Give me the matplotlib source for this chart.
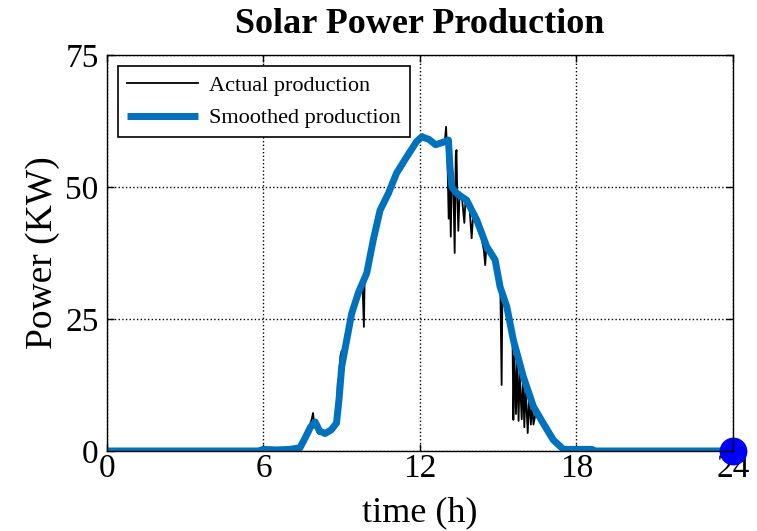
import matplotlib
matplotlib.use("Agg")
import matplotlib.pyplot as plt

# smoothed production (h, kW)
smooth_t = [0, 5.8, 6.0, 6.5, 7.0, 7.4, 7.6, 7.8, 7.98, 8.15, 8.36, 8.6, 8.8, 8.9, 9.0,
            9.19, 9.38, 9.64, 9.96, 10.21, 10.47, 10.79, 11.1, 11.49, 11.87, 12.07, 12.35,
            12.6, 12.96, 13.09, 13.15, 13.22, 13.41, 13.79, 14.18, 14.56, 14.88, 15.07,
            15.33, 15.58, 15.96, 16.35, 16.73, 17.11, 17.5, 18.6, 18.7, 24]
smooth_p = [0, 0, 0.3, 0.2, 0.3, 0.6, 2.5, 4.5, 5.5, 3.8, 3.3, 4.0, 5.3, 10, 16,
            21, 26, 30, 33.7, 40, 45.6, 48.8, 52.6, 55.7, 58.6, 59.5, 59,
            58, 58.6, 58.9, 53.8, 50, 48.8, 47.5, 43.7, 38.7, 36.2, 31.1,
            27.3, 21, 14.1, 8.4, 5.2, 2.1, 0.3, 0.3, 0, 0]

# actual production with its spikes
actual_t = [0, 5.8, 6.0, 7.0, 7.4, 7.6, 7.85, 7.9, 7.95, 8.1, 8.36, 8.6, 8.8, 8.85, 8.9,
            8.95, 9.0, 9.05, 9.15, 9.2, 9.3, 9.45, 9.6, 9.8, 9.85, 9.88, 10.0, 10.2, 10.3,
            10.45, 10.6, 10.8, 11.1, 11.5, 11.9, 12.1, 12.35, 12.6, 12.95, 13.0, 13.05,
            13.1, 13.13, 13.18, 13.22, 13.28, 13.33, 13.37, 13.4, 13.43, 13.47, 13.52,
            13.6, 13.7, 13.75, 13.9, 13.98, 14.05, 14.2, 14.35, 14.45, 14.5, 14.55, 14.7,
            14.9, 15.0, 15.08, 15.13, 15.16, 15.3, 15.45, 15.55, 15.58, 15.62, 15.68,
            15.72, 15.78, 15.82, 15.9, 15.95, 16.0, 16.05, 16.13, 16.18, 16.25, 16.3,
            16.35, 16.45, 16.6, 16.73, 17.1, 17.5, 18.6, 18.7, 24]
actual_p = [0, 0, 0.3, 0.3, 0.5, 2.6, 6.0, 7.2, 4.8, 3.3, 3.2, 3.9, 5, 13, 14,
            18, 19, 16, 22, 23, 24, 27, 30, 31, 23.5, 33, 34, 40, 43,
            46, 47, 49, 53, 56, 59, 60, 59, 58, 58.5, 61.4, 56,
            44, 55, 40.6, 52, 50, 37.5, 56, 57, 48, 41.7, 49,
            48.5, 43.2, 48, 46, 40.3, 45.5, 43.5, 40.5, 38, 35.2, 39, 37.5,
            36, 33, 31, 12.5, 30, 27.5, 24, 20, 5.9, 18, 7,
            17, 5.7, 15, 6, 14, 4.5, 12, 3.4, 10, 5, 9,
            5, 7.5, 5.5, 5, 2, 0.3, 0.3, 0, 0]

x_ticks = [0, 6, 12, 18, 24]
y_ticks = [0, 25, 50, 75]

plt.rcParams['font.family'] = ['Liberation Serif', 'DejaVu Serif']

fig = plt.figure(figsize=(7.57, 5.31), dpi=100)
ax = fig.add_axes([0.1413, 0.1507, 0.8270, 0.7457])

ax.plot(actual_t, actual_p, color='black', lw=1.3, label='Actual production')
ax.plot(smooth_t, smooth_p, color='#0072BD', lw=5, label='Smoothed production',
        solid_joinstyle='round', solid_capstyle='butt')
ax.plot([24], [0], 'o', color='#0000FF', markersize=19, clip_on=False)

ax.set_xlim(0, 24)
ax.set_ylim(0, 75)
ax.set_xticks(x_ticks)
ax.set_yticks(y_ticks)
ax.tick_params(direction='in', labelsize=24, length=5, width=1, top=True, right=True)
ax.tick_params(axis='x', pad=2)
ax.tick_params(axis='y', pad=6)
ax.grid(True, color='black', linestyle=':', lw=1)
for s in ax.spines.values():
    s.set_linewidth(1)

ax.set_xlabel('time (h)', fontsize=26, labelpad=9)
ax.set_ylabel('Power (KW)', fontsize=27, labelpad=4)
ax.set_title('Solar Power Production', fontsize=26, fontweight='bold', pad=16)

leg = ax.legend(loc='upper left', fontsize=16, frameon=True, fancybox=False,
                edgecolor='black', framealpha=1, borderaxespad=0.5, handlelength=3.2,
                handletextpad=0.5, borderpad=0.4, labelspacing=0.55)
leg.get_frame().set_linewidth(1.2)

fig.savefig('out.png', dpi=100)
